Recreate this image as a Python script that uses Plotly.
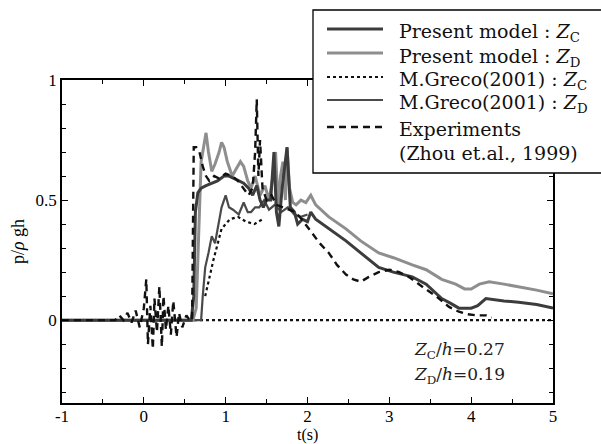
import plotly.graph_objects as go

# ---------------- data ----------------
x_tickvals = [-1, 0, 1, 2, 3, 4, 5]
x_ticktext = ["-1", "0", "1", "2", "3", "4", "5"]
y_tickvals = [0, 0.5, 1]
y_ticktext = ["0", "0.5", "1"]
x_title = "t(s)"
y_title = "p/<i>ρ</i> gh"

# Present model : Z_D (light grey)
t_pzd = [-1, 0.60, 0.64, 0.67, 0.70, 0.73, 0.76, 0.79, 0.83, 0.87, 0.92, 0.95, 0.98, 1.02,
         1.08, 1.13, 1.18, 1.22, 1.27, 1.31, 1.36, 1.42, 1.48, 1.53, 1.57, 1.61, 1.64, 1.67,
         1.70, 1.73, 1.75, 1.78, 1.82, 1.86, 1.92, 1.98, 2.04, 2.10, 2.26, 2.47, 2.65, 2.87,
         3.05, 3.28, 3.45, 3.64, 3.81, 3.92, 4.00, 4.10, 4.22, 4.40, 4.58, 4.80, 5.00]
p_pzd = [0, 0, 0.05, 0.40, 0.66, 0.72, 0.78, 0.70, 0.62, 0.65, 0.70, 0.74, 0.72, 0.66,
         0.60, 0.63, 0.66, 0.64, 0.58, 0.55, 0.60, 0.52, 0.56, 0.50, 0.58, 0.70, 0.48, 0.60,
         0.66, 0.50, 0.72, 0.55, 0.49, 0.48, 0.50, 0.49, 0.52, 0.48, 0.43, 0.38, 0.33, 0.28,
         0.26, 0.23, 0.21, 0.17, 0.15, 0.13, 0.13, 0.15, 0.16, 0.15, 0.14, 0.125, 0.11]

# Present model : Z_C (dark grey)
t_pzc = [-1, 0.58, 0.61, 0.63, 0.66, 0.70, 0.76, 0.82, 0.90, 0.98, 1.04, 1.10, 1.16, 1.22,
         1.28, 1.33, 1.38, 1.42, 1.46, 1.50, 1.55, 1.59, 1.62, 1.65, 1.69, 1.75, 1.79, 1.84,
         1.88, 1.94, 2.00, 2.04, 2.10, 2.26, 2.47, 2.65, 2.87, 3.05, 3.28, 3.45, 3.64, 3.75,
         3.85, 4.00, 4.08, 4.18, 4.40, 4.58, 4.80, 5.00]
p_pzc = [0, 0, 0.10, 0.45, 0.53, 0.55, 0.56, 0.57, 0.58, 0.60, 0.60, 0.59, 0.58, 0.57,
         0.55, 0.52, 0.56, 0.50, 0.47, 0.50, 0.50, 0.70, 0.45, 0.39, 0.55, 0.72, 0.47, 0.45,
         0.40, 0.42, 0.41, 0.45, 0.42, 0.38, 0.33, 0.28, 0.22, 0.20, 0.18, 0.15, 0.09, 0.07,
         0.05, 0.05, 0.06, 0.09, 0.08, 0.075, 0.065, 0.05]

# M.Greco(2001) : Z_D (solid)
t_gzd = [-1, 0.70, 0.72, 0.75, 0.79, 0.83, 0.87, 0.91, 0.95, 1.00, 1.04, 1.09, 1.16, 1.22,
         1.27, 1.31, 1.36, 1.41, 1.47, 1.53, 1.60, 1.68, 1.76, 1.84, 1.92, 2.00]
p_gzd = [0, 0, 0.10, 0.22, 0.28, 0.35, 0.32, 0.40, 0.47, 0.52, 0.47, 0.46, 0.44, 0.49,
         0.45, 0.45, 0.47, 0.47, 0.50, 0.46, 0.48, 0.45, 0.47, 0.44, 0.43, 0.44]

# M.Greco(2001) : Z_C (dotted)
t_gzc = [-1, 5, None, 0.75, 0.85, 0.95, 1.05, 1.15, 1.25, 1.35, 1.45]
p_gzc = [0, 0, None, 0.10, 0.25, 0.38, 0.42, 0.43, 0.41, 0.40, 0.42]

# Experiments (Zhou et al., 1999) (dashed)
t_exp = [-1, -0.35, -0.30, -0.25, -0.20, -0.15, -0.10, -0.05, 0.00, 0.03, 0.05, 0.08, 0.11,
         0.13, 0.16, 0.19, 0.22, 0.24, 0.27, 0.30, 0.33, 0.36, 0.40, 0.43, 0.47, 0.52, 0.56,
         0.59, 0.61, 0.64, 0.68, 0.72, 0.76, 0.80, 0.86, 0.92, 1.00, 1.08, 1.15, 1.22, 1.28,
         1.33, 1.36, 1.38, 1.40, 1.42, 1.45, 1.50, 1.56, 1.62, 1.70, 1.78, 1.85, 1.93, 2.04,
         2.15, 2.26, 2.36, 2.47, 2.56, 2.65, 2.75, 2.87, 3.00, 3.12, 3.24, 3.40, 3.57, 3.73,
         3.85, 3.95, 4.06, 4.18, 4.25]
p_exp = [0, 0, 0.02, 0, 0.03, -0.01, 0.04, -0.03, 0.05, 0.17, -0.10, 0.06, -0.12,
         0.09, -0.05, 0.14, -0.11, 0.10, -0.04, 0.06, -0.06, 0.08, -0.07, 0.03, -0.03, 0.02, 0.0,
         0.0, 0.72, 0.72, 0.70, 0.64, 0.60, 0.58, 0.60, 0.59, 0.61, 0.60, 0.58, 0.55, 0.52,
         0.55, 0.70, 0.92, 0.60, 0.75, 0.55, 0.50, 0.52, 0.48, 0.47, 0.46, 0.45, 0.42, 0.37,
         0.32, 0.28, 0.23, 0.19, 0.17, 0.16, 0.18, 0.20, 0.21, 0.20, 0.18, 0.14, 0.10, 0.055,
         0.035, 0.025, 0.02, 0.02, 0.01]

legend_labels = [
    "Present model : <i>Z</i><sub>C</sub>",
    "Present model : <i>Z</i><sub>D</sub>",
    "M.Greco(2001) : <i>Z</i><sub>C</sub>",
    "M.Greco(2001) : <i>Z</i><sub>D</sub>",
    "Experiments",
    "(Zhou et.al., 1999)",
]
note_lines = ["<i>Z</i><sub>C</sub>/<i>h</i>=0.27", "<i>Z</i><sub>D</sub>/<i>h</i>=0.19"]

# ---------------- styles ----------------
C_PZC = "#3c3c3c"
C_PZD = "#8e8e8e"
C_GZC = "#111111"
C_GZD = "#4a4a4a"
C_EXP = "#111111"
styles = [
    dict(color=C_PZC, width=3, dash="solid"),
    dict(color=C_PZD, width=3, dash="solid"),
    dict(color=C_GZC, width=2.2, dash="dot"),
    dict(color=C_GZD, width=2.2, dash="solid"),
    dict(color=C_EXP, width=2.4, dash="7px,5px"),
]

fig = go.Figure()
fig.add_trace(go.Scatter(x=t_gzc, y=p_gzc, mode="lines", line=styles[2], showlegend=False))
fig.add_trace(go.Scatter(x=t_gzd, y=p_gzd, mode="lines", line=styles[3], showlegend=False))
fig.add_trace(go.Scatter(x=t_pzd, y=p_pzd, mode="lines", line=styles[1], showlegend=False))
fig.add_trace(go.Scatter(x=t_pzc, y=p_pzc, mode="lines", line=styles[0], showlegend=False))
fig.add_trace(go.Scatter(x=t_exp, y=p_exp, mode="lines", line=styles[4], showlegend=False))

W, H = 601, 444
L, R, T, B = 62, 48, 80, 41
pw, ph = W - L - R, H - T - B


def px(xp):
    return (xp - L) / pw


def py(yp):
    return (H - B - yp) / ph


shapes = []
annotations = []
# legend box (white, covers frame)
shapes.append(dict(type="rect", xref="paper", yref="paper", x0=px(313), x1=px(640),
                   y0=py(173), y1=py(10), line=dict(color="black", width=1.3),
                   fillcolor="white", layer="above"))
line_y = [29, 53, 77, 100, 127]
text_y = [32, 57, 80, 103, 129, 153]
for i, st in enumerate(styles):
    shapes.append(dict(type="line", xref="paper", yref="paper", x0=px(327), x1=px(383),
                       y0=py(line_y[i]), y1=py(line_y[i]),
                       line=dict(color=st["color"], width=st["width"], dash=st["dash"]),
                       layer="above"))
for i, lab in enumerate(legend_labels):
    annotations.append(dict(text=lab, xref="paper", yref="paper", x=px(397), y=py(text_y[i]),
                            xanchor="left", yanchor="middle", showarrow=False,
                            font=dict(family="DejaVu Serif", size=19, color="#111")))
for i, txt in enumerate(note_lines):
    annotations.append(dict(text=txt, xref="paper", yref="paper", x=px(412), y=py([350, 375][i]),
                            xanchor="left", yanchor="middle", showarrow=False,
                            font=dict(family="DejaVu Serif", size=17, color="#222")))
# x-axis title
annotations.append(dict(text=x_title, xref="paper", yref="paper", x=0.5, y=py(435),
                        xanchor="center", yanchor="middle", showarrow=False,
                        font=dict(family="Liberation Serif", size=16, color="black")))

axis_common = dict(showline=True, linecolor="black", linewidth=1.5, mirror="ticks",
                   ticks="inside", ticklen=6, tickcolor="black", tickwidth=1.2,
                   showgrid=False, zeroline=False, automargin=False,
                   tickfont=dict(family="Liberation Serif", size=17, color="black"))

fig.update_layout(
    width=W, height=H, margin=dict(l=L, r=R, t=T, b=B),
    paper_bgcolor="white", plot_bgcolor="white",
    shapes=shapes, annotations=annotations,
    xaxis=dict(range=[-1, 5], tickvals=x_tickvals, ticktext=x_ticktext, ticklabelstandoff=-3,
               minor=dict(tickvals=[-0.5, 0.5, 1.5, 2.5, 3.5, 4.5], ticks="inside", ticklen=4,
                          tickcolor="black"),
               **axis_common),
    yaxis=dict(range=[-0.345, 1.0], tickvals=y_tickvals, ticktext=y_ticktext,
               minor=dict(dtick=0.1, tick0=0, ticks="inside", ticklen=4, tickcolor="black"),
               title=dict(text=y_title, standoff=6,
                          font=dict(family="Liberation Serif", size=18, color="black")),
               **axis_common),
)

fig.write_html("out.html")
